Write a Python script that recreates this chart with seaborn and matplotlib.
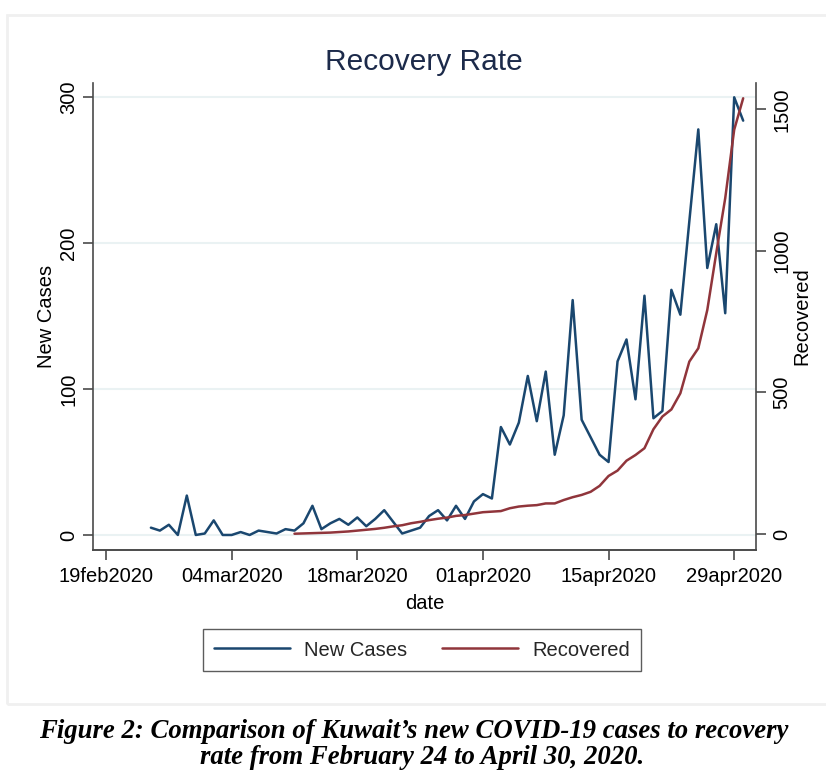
import pandas as pd
import matplotlib.pyplot as plt
from matplotlib.lines import Line2D
from matplotlib.patches import Rectangle
import seaborn as sns


# Daily new cases, 24 Feb - 30 Apr 2020
new_cases = [5, 3, 7, 0, 27, 0,
             1, 10, 0, 0, 2, 0, 3, 2, 1, 4, 3, 8, 20, 4, 8, 11, 7, 12, 6, 11,
             17, 9, 1, 3, 5, 13, 17, 10, 20, 11, 23,
             28, 25, 74, 62, 77, 109, 78, 112, 55, 82, 161, 79, 67, 55, 50, 119,
             134, 93, 164, 80, 85, 168, 151, 215, 278, 183, 213, 152, 300, 284]

# Cumulative recovered, 11 Mar - 30 Apr 2020
recovered = [1, 2, 3, 4, 5, 7, 9, 12, 15, 18, 22, 27, 31, 38, 43, 49, 54, 58, 64, 67, 72,
             77, 79, 81, 91, 97, 100, 102, 108, 108, 120, 130, 138, 149, 170, 205, 224,
             259, 279, 303, 370, 415, 440, 497, 609, 656, 791, 992, 1186, 1428, 1539]

case_dates = pd.date_range("2020-02-24", "2020-04-30")
rec_dates = pd.date_range("2020-03-11", "2020-04-30")

tick_dates = pd.to_datetime(["2020-02-19", "2020-03-04", "2020-03-18",
                             "2020-04-01", "2020-04-15", "2020-04-29"])
tick_labels = [d.strftime("%d%b%Y").lower() for d in tick_dates]

navy = "#1a476f"
maroon = "#90353b"
spine_col = "#4a4a4a"

sns.set_theme(style="white")
plt.rcParams["font.family"] = ["Liberation Sans", "DejaVu Sans"]

fig = plt.figure(figsize=(8.26, 7.74), dpi=100)
ax = fig.add_axes([93.3 / 826, 1 - 550 / 774, (756 - 93.3) / 826, (550 - 83) / 774])
ax2 = ax.twinx()

sns.lineplot(x=case_dates, y=new_cases, ax=ax, color=navy, lw=1.8, legend=False)
sns.lineplot(x=rec_dates, y=recovered, ax=ax2, color=maroon, lw=1.8, legend=False)

# axis limits
ax.set_xlim(tick_dates[0] - pd.Timedelta(days=1.42), tick_dates[-1] + pd.Timedelta(days=2.43))
ax.set_ylim(-10.3, 309.8)
ax2.set_ylim(-56.5, 1593)

ax.set_xticks(tick_dates)
ax.set_xticklabels(tick_labels)
ax.set_yticks([0, 100, 200, 300])
ax2.set_yticks([0, 500, 1000, 1500])

ax.yaxis.grid(True, color="#eaf2f3", lw=1.5)
ax.xaxis.grid(False)
ax2.grid(False)

for a in (ax, ax2):
    a.spines["top"].set_visible(False)
    for s in ("left", "right", "bottom"):
        a.spines[s].set_color(spine_col)
        a.spines[s].set_linewidth(1.2)
    a.tick_params(axis="both", direction="out", length=7, width=1.2, color=spine_col,
                  labelsize=14.5, labelcolor="black")
ax2.spines["left"].set_visible(False)
ax.spines["right"].set_visible(False)

ax.tick_params(axis="y", left=True, labelrotation=90, pad=4)
ax.tick_params(axis="x", bottom=True, pad=5)
ax2.tick_params(axis="y", right=True, labelrotation=90, pad=5)
for lab in ax.get_yticklabels() + ax2.get_yticklabels():
    lab.set_va("center")

ax.set_xlabel("date", fontsize=14.5, color="black")
ax.xaxis.set_label_coords(0.5, -0.094)
ax.set_ylabel("New Cases", fontsize=14.5, color="black")
ax.yaxis.set_label_coords(-0.056, 0.5)
ax2.set_ylabel("Recovered", fontsize=14.5, color="black", rotation=90)
ax2.yaxis.set_label_coords(1.055, 0.5)

fig.text(424 / 826, 1 - 62 / 774, "Recovery Rate", ha="center", va="center",
         fontsize=21.5, color="#1c2a4a")

handles = [Line2D([], [], color=navy, lw=1.8), Line2D([], [], color=maroon, lw=1.8)]
leg = fig.legend(handles, ["New Cases", "Recovered"], loc="center",
                 bbox_to_anchor=(422 / 826, 1 - 650 / 774), ncol=2, fontsize=14.5,
                 frameon=True, fancybox=False, shadow=False, edgecolor="#333333",
                 handlelength=3.8, handletextpad=0.7, columnspacing=1.7, borderpad=0.55)
leg.get_frame().set_linewidth(1.0)

# graph region outline
fig.patches.append(Rectangle((7 / 826, 1 - 704 / 774), 1.2, (704 - 15) / 774,
                             transform=fig.transFigure, fill=False,
                             edgecolor="#f0f0f0", lw=2))

caption_font = dict(family=["Liberation Serif", "DejaVu Serif"], fontweight="bold",
                    fontstyle="italic", fontsize=19.3, color="black", ha="center", va="center")
fig.text(414 / 826, 1 - 731 / 774,
         "Figure 2: Comparison of Kuwait\u2019s new COVID-19 cases to recovery", **caption_font)
fig.text(422 / 826, 1 - 758 / 774, "rate from February 24 to April 30, 2020.", **caption_font)

fig.savefig("out.png", dpi=100)
